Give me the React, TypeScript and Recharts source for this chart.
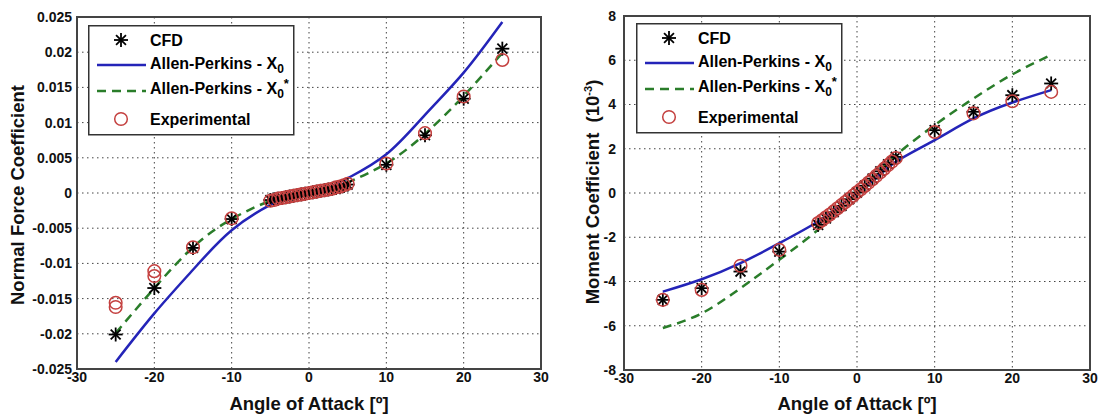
import { ComposedChart, Line, Scatter, XAxis, YAxis, CartesianGrid, ReferenceArea } from "recharts"

const FONT = "'Liberation Sans', Arial, Helvetica, sans-serif"
const BLUE = "#2424b8"
const GREEN = "#2a7d2a"
const RED = "#c4403f"

// shared x axis
const angleTicks = [-30, -20, -10, 0, 10, 20, 30]

// normal force coefficient (left)
const normalTicks = [-0.025, -0.02, -0.015, -0.01, -0.005, 0, 0.005, 0.01, 0.015, 0.02, 0.025]
const normalLineAngles = [-25, -20, -15, -10, -5, -2.5, 0, 2.5, 5, 10, 15, 20, 25]
const normalX0 = [-0.024, -0.0171, -0.0109, -0.0053, -0.0017, -0.0006, 0, 0.0007, 0.0021, 0.0055, 0.0111, 0.0171, 0.0243]
const normalX0Star = [-0.0199, -0.0135, -0.0077, -0.0037, -0.0011, -0.0004, 0, 0.0005, 0.0015, 0.0042, 0.0084, 0.0138, 0.0199]
const normalCfdAngles = [-25, -20, -15, -10, -5, -4.5, -4, -3.5, -3, -2.5, -2, -1.5, -1, -0.5, 0, 0.5, 1, 1.5, 2, 2.5, 3, 3.5, 4, 4.5, 5, 10, 15, 20, 25]
const normalCfd = [-0.0201, -0.0135, -0.0078, -0.0037, -0.001, -0.0009, -0.0008, -0.0007, -0.0006, -0.0005, -0.0004, -0.0003, -0.0002, -0.0001, 0, 0.0001, 0.0002, 0.0003, 0.0004, 0.0005, 0.0006, 0.0007, 0.0008, 0.001, 0.0012, 0.004, 0.0082, 0.0134, 0.0205]
const normalExpAngles = [-25, -25, -20, -20, -15, -10, -5, -4.5, -4, -3.5, -3, -2.5, -2, -1.5, -1, -0.5, 0, 0.5, 1, 1.5, 2, 2.5, 3, 3.5, 4, 4.5, 5, 10, 15, 20, 25]
const normalExp = [-0.0156, -0.0162, -0.0111, -0.0118, -0.0077, -0.0036, -0.0011, -0.001, -0.0008, -0.0007, -0.0006, -0.0005, -0.0004, -0.0003, -0.0002, -0.0001, 0, 0.0001, 0.0002, 0.0003, 0.0004, 0.0005, 0.0006, 0.0008, 0.0009, 0.0011, 0.0013, 0.0042, 0.0085, 0.0137, 0.0189]

// moment coefficient x 10^-3 (right)
const momentTicks = [-8, -6, -4, -2, 0, 2, 4, 6, 8]
const momentLineAngles = [-25, -20, -15, -10, -5, -2.5, 0, 2.5, 5, 10, 15, 20, 25]
const momentX0 = [-4.46, -3.9, -3.17, -2.27, -1.29, -0.66, 0, 0.7, 1.41, 2.39, 3.37, 4.09, 4.65]
const momentX0Star = [-6.1, -5.44, -4.3, -3.02, -1.66, -0.84, 0, 0.86, 1.71, 3.07, 4.27, 5.36, 6.24]
const momentCfdAngles = [-25, -20, -15, -10, -5, -4, -3, -2, -1, 0, 1, 2, 3, 4, 5, 10, 15, 20, 25]
const momentCfd = [-4.83, -4.3, -3.55, -2.65, -1.44, -1.15, -0.87, -0.58, -0.28, 0.02, 0.33, 0.65, 0.98, 1.3, 1.63, 2.84, 3.67, 4.42, 4.95]
const momentExpAngles = [-25, -20, -15, -10, -5, -4.5, -4, -3.5, -3, -2.5, -2, -1.5, -1, -0.5, 0, 0.5, 1, 1.5, 2, 2.5, 3, 3.5, 4, 4.5, 5, 10, 15, 20, 25]
const momentExp = [-4.83, -4.38, -3.29, -2.57, -1.36, -1.23, -1.1, -0.97, -0.83, -0.69, -0.55, -0.41, -0.26, -0.12, 0.03, 0.17, 0.32, 0.47, 0.62, 0.78, 0.94, 1.1, 1.26, 1.42, 1.58, 2.76, 3.6, 4.15, 4.57]

const toPoints = (xs: number[], ys: number[]) => xs.map((x, i) => ({ x, y: ys[i] }))

const Star = ({ cx, cy }: any) => {
  if (cx == null || cy == null) return null
  const r = 7
  const d = r * 0.707
  return (
    <g stroke="#000" strokeWidth={1.8}>
      <line x1={cx - r} y1={cy} x2={cx + r} y2={cy} />
      <line x1={cx} y1={cy - r} x2={cx} y2={cy + r} />
      <line x1={cx - d} y1={cy - d} x2={cx + d} y2={cy + d} />
      <line x1={cx - d} y1={cy + d} x2={cx + d} y2={cy - d} />
    </g>
  )
}

const Ring = ({ cx, cy }: any) => {
  if (cx == null || cy == null) return null
  return <circle cx={cx} cy={cy} r={6.3} fill="none" stroke={RED} strokeWidth={1.5} />
}

const tickStyle = { fill: "#111", fontSize: 14, fontWeight: "bold", fontFamily: FONT }

const Panel = ({ width, yWidth, right, top, bottom, yTicks, yMargin, x0, x0Star, cfd, exp }: any) => {
  const lo = yTicks[0]
  const hi = yTicks[yTicks.length - 1]
  return (
    <ComposedChart width={width} height={418} margin={{ top, right, bottom, left: 0 }}>
      <CartesianGrid stroke="#444" strokeDasharray="1.5 3.5" />
      <XAxis type="number" dataKey="x" domain={[-30, 30]} ticks={angleTicks} interval={0} allowDataOverflow
        height={30} tickLine={false} axisLine={false} tickSize={0} tickMargin={3} tick={tickStyle} />
      <YAxis type="number" dataKey="y" domain={[lo, hi]} ticks={yTicks} interval={0} allowDataOverflow
        width={yWidth} tickLine={false} axisLine={false} tickSize={0} tickMargin={yMargin} tick={tickStyle} />
      <ReferenceArea x1={-30} x2={30} y1={lo} y2={hi} fill="none" stroke="#444" strokeWidth={2} fillOpacity={0} />
      <Scatter data={cfd} dataKey="y" isAnimationActive={false} shape={(p: any) => <Star cx={p.cx} cy={p.cy} />} />
      <Line data={x0} dataKey="y" type="natural" stroke={BLUE} strokeWidth={2.5} dot={false} activeDot={false} isAnimationActive={false} />
      <Line data={x0Star} dataKey="y" type="natural" stroke={GREEN} strokeWidth={2.5} strokeDasharray="9 6" dot={false} activeDot={false} isAnimationActive={false} />
      <Scatter data={exp} dataKey="y" isAnimationActive={false} shape={(p: any) => <Ring cx={p.cx} cy={p.cy} />} />
    </ComposedChart>
  )
}

const LegendBox = ({ left, top }: any) => (
  <g transform={`translate(${left},${top})`} fontFamily={FONT} fontWeight="bold" fontSize={16} fill="#000">
    <rect x={0.75} y={0.75} width={205} height={109} fill="#fff" stroke="#333" strokeWidth={1.5} />
    <Star cx={33} cy={15} />
    <text x={62} y={21}>CFD</text>
    <line x1={9} x2={58} y1={40} y2={40} stroke={BLUE} strokeWidth={2.5} />
    <text x={62} y={44}>Allen-Perkins - X<tspan dy={4} fontSize={12}>0</tspan></text>
    <line x1={9} x2={58} y1={66} y2={66} stroke={GREEN} strokeWidth={2.5} strokeDasharray="9 6" />
    <text x={62} y={69}>Allen-Perkins - X<tspan dy={4} fontSize={12}>0</tspan><tspan dy={-10} fontSize={13}>*</tspan></text>
    <Ring cx={33} cy={94} />
    <text x={62} y={100}>Experimental</text>
  </g>
)

export default function App() {
  return (
    <div style={{ position: "absolute", left: 0, top: 0, width: 1101, height: 418, background: "#fff" }}>
      <div style={{ position: "absolute", left: 0, top: 0 }}>
        <Panel width={560} yWidth={77} right={19} top={17} bottom={19} yTicks={normalTicks} yMargin={5}
          x0={toPoints(normalLineAngles, normalX0)} x0Star={toPoints(normalLineAngles, normalX0Star)}
          cfd={toPoints(normalCfdAngles, normalCfd)} exp={toPoints(normalExpAngles, normalExp)} />
      </div>
      <div style={{ position: "absolute", left: 560, top: 0 }}>
        <Panel width={541} yWidth={64} right={11} top={16} bottom={18} yTicks={momentTicks} yMargin={8}
          x0={toPoints(momentLineAngles, momentX0)} x0Star={toPoints(momentLineAngles, momentX0Star)}
          cfd={toPoints(momentCfdAngles, momentCfd)} exp={toPoints(momentExpAngles, momentExp)} />
      </div>
      <svg width={1101} height={418} style={{ position: "absolute", left: 0, top: 0, pointerEvents: "none" }}>
        <g fontFamily={FONT} fontWeight="bold" fontSize={18.5} fill="#111" textAnchor="middle">
          <text x={309} y={410}>Angle of Attack [º]</text>
          <text x={857} y={410}>Angle of Attack [º]</text>
          <text transform="translate(24,195) rotate(-90)">Normal Force Coefficient</text>
          <text transform="translate(599,192) rotate(-90)" style={{ whiteSpace: "pre" }}>
            Moment Coefficient  (10<tspan dy={-7} fontSize={11}>-3</tspan><tspan dy={7}>)</tspan>
          </text>
        </g>
        <LegendBox left={88} top={25} />
        <LegendBox left={636} top={23} />
      </svg>
    </div>
  )
}
